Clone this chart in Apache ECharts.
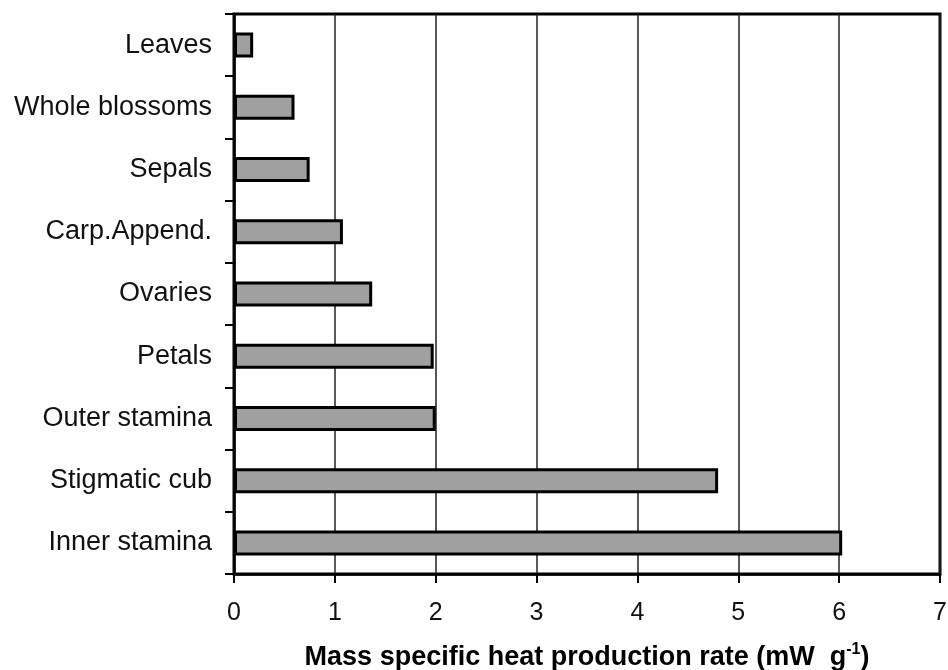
<!DOCTYPE html>
<html>
<head>
<meta charset="utf-8">
<script src="https://cdn.jsdelivr.net/npm/echarts@6/dist/echarts.min.js"></script>
<style>
  html, body { margin: 0; padding: 0; background: #fff; }
  #main { width: 948px; height: 670px; }
</style>
</head>
<body>
<div id="main"></div>
<script>
// 器官类别（从上到下）
var categories = ['Leaves', 'Whole blossoms', 'Sepals', 'Carp.Append.', 'Ovaries',
                  'Petals', 'Outer stamina', 'Stigmatic cub', 'Inner stamina'];
// 单位质量产热速率 mW g-1
var heatRate = [0.19, 0.60, 0.75, 1.08, 1.37, 1.98, 2.00, 4.80, 6.03];
var xTicks = [0, 1, 2, 3, 4, 5, 6, 7];

var myChart = echarts.init(document.getElementById('main'));
myChart.setOption({
    animation: false,
    backgroundColor: '#fff',
    grid: {
        left: 234,
        right: 8,
        top: 14,
        bottom: 96,
        outerBoundsMode: 'none',
        containLabel: false,
        show: true,
        borderColor: '#000',
        borderWidth: 3
    },
    xAxis: {
        type: 'value',
        min: xTicks[0],
        max: xTicks[xTicks.length - 1],
        interval: 1,
        name: 'Mass specific heat production rate (mW  g{sup|-1})',
        nameLocation: 'middle',
        nameGap: 68,
        nameTextStyle: {
            fontFamily: 'Liberation Sans',
            fontSize: 27,
            fontWeight: 'bold',
            color: '#000',
            rich: {
                sup: {
                    fontFamily: 'Liberation Sans',
                    fontSize: 16,
                    fontWeight: 'bold',
                    color: '#000',
                    padding: [0, 0, 16, 0]
                }
            }
        },
        axisLine: { show: true, lineStyle: { color: '#000', width: 2.5 } },
        axisTick: { show: true, length: 9, lineStyle: { color: '#000', width: 2 } },
        axisLabel: {
            margin: 27,
            fontFamily: 'Liberation Sans',
            fontSize: 25,
            color: '#111'
        },
        splitLine: { show: true, lineStyle: { color: '#222', width: 1.5 } }
    },
    yAxis: {
        type: 'category',
        inverse: true,
        data: categories,
        axisLine: { show: true, lineStyle: { color: '#000', width: 2.5 } },
        axisTick: { show: true, length: 9, lineStyle: { color: '#000', width: 2 } },
        axisLabel: {
            margin: 22,
            fontFamily: 'Liberation Sans',
            fontSize: 27,
            color: '#111'
        },
        splitLine: { show: false }
    },
    series: [
        {
            type: 'bar',
            data: heatRate,
            barWidth: 25,
            itemStyle: {
                color: '#a0a0a0',
                borderColor: '#000',
                borderWidth: 3
            }
        }
    ]
});
</script>
</body>
</html>
